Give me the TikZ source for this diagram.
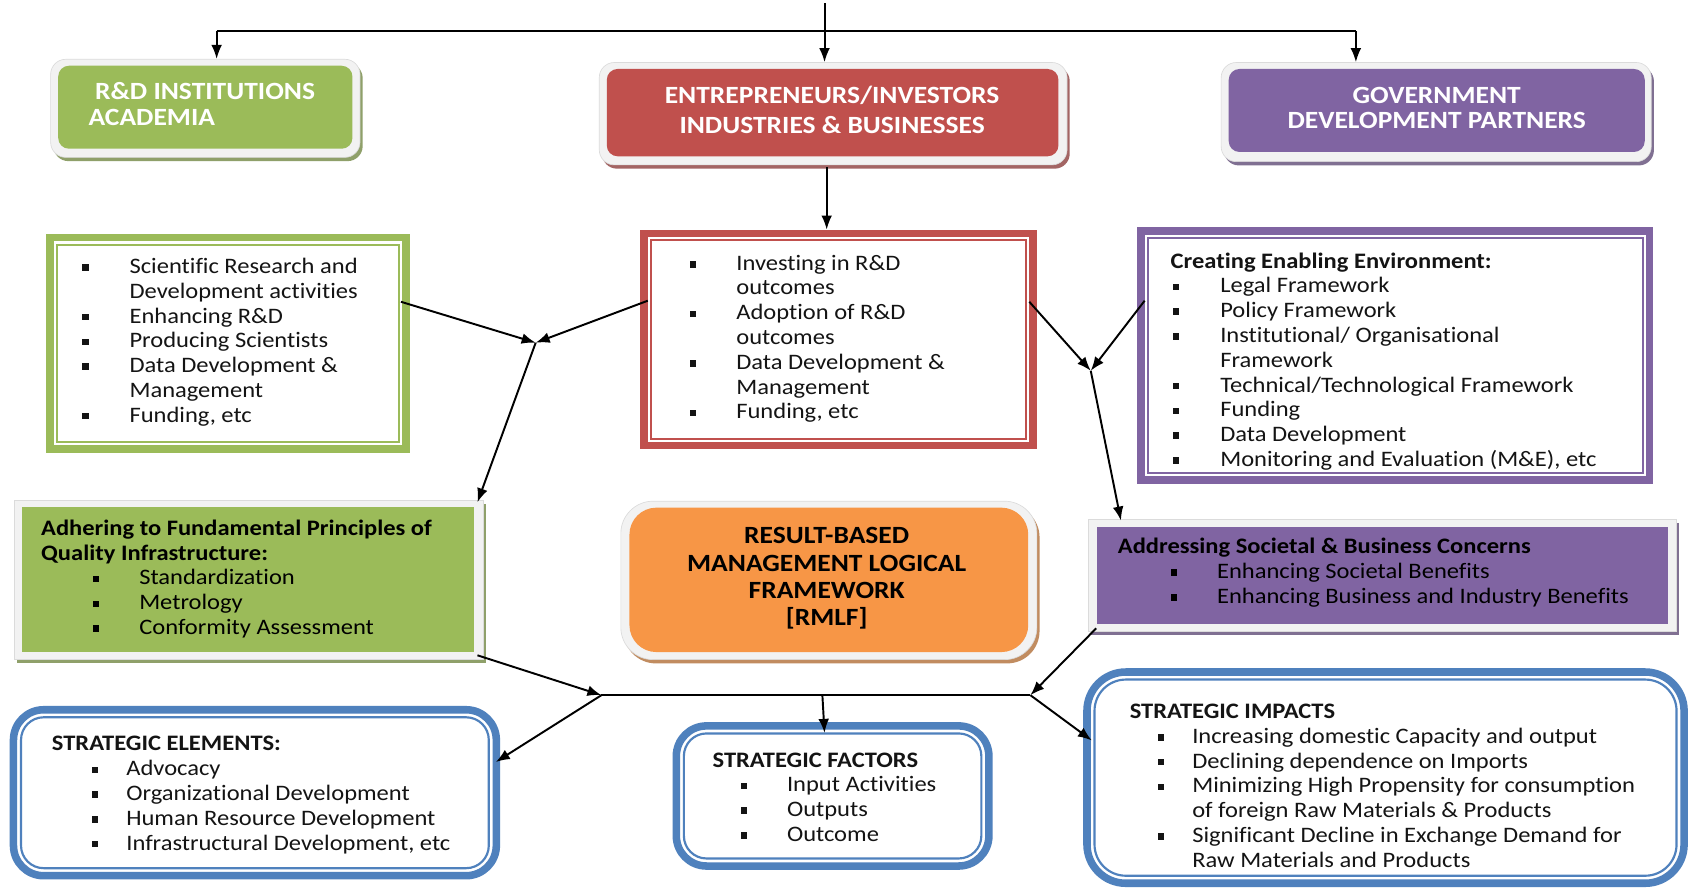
\documentclass[tikz,border=0pt]{standalone}
\usepackage{fontspec}
\setmainfont{Carlito}[FakeStretch=1.11,Ligatures=NoCommon]
\usetikzlibrary{arrows.meta,shadows,calc}
\definecolor{cgreen}{HTML}{9BBB59}
\definecolor{cred}{HTML}{C0504D}
\definecolor{cpurple}{HTML}{8064A2}
\definecolor{corange}{HTML}{F79646}
\definecolor{cblue}{HTML}{4F81BD}
\definecolor{cframe}{HTML}{F2F2F2}
\definecolor{ctext}{HTML}{141414}
\newcommand\bodyf{\fontsize{20.5}{23}\selectfont}
\newcommand\bul[1]{\makebox[#1][l]{\rule[2.5pt]{6pt}{6pt}}}
\newcommand\bi[3]{\strut\hspace*{#1}\bul{#2}#3}
\newcommand\ci[2]{\strut\hspace*{#1}#2}
\tikzset{
  frm/.style={fill=cframe, draw=black!14, line width=0.6pt, inner sep=0pt},
  shd/.style={general shadow={fill=#1, draw=none, shadow xshift=2.5pt, shadow yshift=-3.5pt}},
  infill/.style={fill=#1, draw=none, inner sep=0pt},
  thickb/.style={draw=#1, line width=7pt, inner sep=0pt},
  thinb/.style={draw=#1, line width=2pt, inner sep=0pt},
  txt/.style={anchor=north west, inner sep=0pt, align=left, font=\bodyf, text=ctext, yshift=-1.5pt},
  head/.style={inner sep=0pt, font=\fontsize{23}{#1}\selectfont\bfseries},
  arr/.style={-{Latex[length=13pt,width=10pt]}, line width=1.8pt, black},
  ln/.style={line width=1.6pt, black}
}
\begin{document}
\begin{tikzpicture}[x=1pt,y=-1pt]
\useasboundingbox (0,0) rectangle (1568,826);
\fill[white] (0,0) rectangle (1568,826);

% ---------- top row ----------
\node[frm, shd=cgreen!55!gray, rounded corners=14pt, minimum width=287pt, minimum height=91pt] (rd) at (190.5,100.5) {};
\node[infill=cgreen, rounded corners=10pt, minimum width=273pt, minimum height=77pt] (rdin) at (190.5,99.5) {};
\node[head=24, text=white, anchor=north west, align=left] (rdtxt) at (82,75.6) {\strut\hspace*{6pt}R\&D INSTITUTIONS\\\strut ACADEMIA};

\node[frm, shd=cred!55!gray, rounded corners=14pt, minimum width=434pt, minimum height=95pt] (ent) at (773,105.5) {};
\node[infill=cred, rounded corners=10pt, minimum width=419pt, minimum height=81pt] (entin) at (772.5,104.5) {};
\node[head=28, text=white, anchor=north, align=center] (enttxt) at (772,76.3) {\strut ENTREPRENEURS/INVESTORS\\\strut INDUSTRIES \& BUSINESSES};

\node[frm, shd=cpurple!55!gray, rounded corners=14pt, minimum width=399pt, minimum height=92pt] (gov) at (1332.5,104) {};
\node[infill=cpurple, rounded corners=10pt, minimum width=386pt, minimum height=77pt] (govin) at (1333,102.5) {};
\node[head=23, text=white, anchor=north, align=center] (govtxt) at (1333,79.8) {\strut GOVERNMENT\\\strut DEVELOPMENT PARTNERS};

% ---------- second row: double-border boxes ----------
\node[thickb=cgreen, minimum width=330pt, minimum height=196pt] (boxA) at (211.5,318.5) {};
\node[thinb=cgreen, minimum width=317pt, minimum height=183pt] (boxAin) at (211.5,318.5) {};
\node[txt] (txtA) at (76,235.9) {%
\bi{0pt}{44pt}{Scientific Research and}\\
\ci{44pt}{Development activities}\\
\bi{0pt}{44pt}{Enhancing R\&D}\\
\bi{0pt}{44pt}{Producing Scientists}\\
\bi{0pt}{44pt}{Data Development \&}\\
\ci{44pt}{Management}\\
\bi{0pt}{44pt}{Funding, etc}};

\node[thickb=cred, minimum width=361pt, minimum height=197pt] (boxB) at (778,315) {};
\node[thinb=cred, minimum width=348pt, minimum height=184pt] (boxBin) at (778,315) {};
\node[txt] (txtB) at (640,232.9) {%
\bi{0pt}{43pt}{Investing in R\&D}\\
\ci{43pt}{outcomes}\\
\bi{0pt}{43pt}{Adoption of R\&D}\\
\ci{43pt}{outcomes}\\
\bi{0pt}{43pt}{Data Development \&}\\
\ci{43pt}{Management}\\
\bi{0pt}{43pt}{Funding, etc}};

\node[thickb=cpurple, minimum width=472pt, minimum height=231pt] (boxC) at (1294.5,330) {};
\node[thinb=cpurple, minimum width=459pt, minimum height=218pt] (boxCin) at (1294.5,330) {};
\node[txt] (txtC) at (1086,230.9) {%
\strut\textbf{Creating Enabling Environment:}\\
\bi{2pt}{44pt}{Legal Framework}\\
\bi{2pt}{44pt}{Policy Framework}\\
\bi{2pt}{44pt}{Institutional/ Organisational}\\
\ci{46pt}{Framework}\\
\bi{2pt}{44pt}{Technical/Technological Framework}\\
\bi{2pt}{44pt}{Funding}\\
\bi{2pt}{44pt}{Data Development}\\
\bi{2pt}{44pt}{Monitoring and Evaluation (M\&E), etc}};

% ---------- third row ----------
\node[frm, shd=cgreen!55!gray, minimum width=435pt, minimum height=148pt] (boxD) at (230.5,538) {};
\node[infill=cgreen, minimum width=420pt, minimum height=135pt] (boxDin) at (230,537.5) {};
\node[txt, text=black] (txtD) at (38,478.9) {%
\strut\textbf{Adhering to Fundamental Principles of}\\
\strut\textbf{Quality Infrastructure:}\\
\bi{48pt}{43pt}{Standardization}\\
\bi{48pt}{43pt}{Metrology}\\
\bi{48pt}{43pt}{Conformity Assessment}};

\node[frm, shd=corange!55!gray, rounded corners=30pt, minimum width=386pt, minimum height=147pt] (rmlf) at (769,538.5) {};
\node[infill=corange, rounded corners=25pt, minimum width=370pt, minimum height=134pt] (rmlfin) at (769,538) {};
\node[head=25.3, text=black, anchor=north, align=center] (rmlftxt) at (767,486.7) {\strut RESULT-BASED\\\strut MANAGEMENT LOGICAL\\\strut FRAMEWORK\\\strut [RMLF]};

\node[frm, shd=cpurple!55!gray, minimum width=545pt, minimum height=104pt] (boxE) at (1282.5,534) {};
\node[infill=cpurple, minimum width=530pt, minimum height=90pt] (boxEin) at (1283,534) {};
\node[txt, text=black] (txtE) at (1037,495.9) {%
\strut\textbf{Addressing Societal \& Business Concerns}\\
\bi{49pt}{43pt}{Enhancing Societal Benefits}\\
\bi{49pt}{43pt}{Enhancing Business and Industry Benefits}};

% ---------- bottom row ----------
\node[thickb=cblue, rounded corners=28pt, minimum width=448pt, minimum height=154pt] (boxF) at (236.5,735.5) {};
\node[thinb=cblue, rounded corners=21pt, minimum width=434pt, minimum height=140pt] (boxFin) at (236.5,735.5) {};
\node[txt] (txtF) at (48,678.9) {%
\strut\textbf{STRATEGIC ELEMENTS:}\\
\bi{37pt}{32pt}{Advocacy}\\
\bi{37pt}{32pt}{Organizational Development}\\
\bi{37pt}{32pt}{Human Resource Development}\\
\bi{37pt}{32pt}{Infrastructural Development, etc}};

\node[thickb=cblue, rounded corners=28pt, minimum width=290pt, minimum height=130pt] (boxG) at (772.5,738.5) {};
\node[thinb=cblue, rounded corners=21pt, minimum width=276pt, minimum height=116pt] (boxGin) at (772.5,738.5) {};
\node[txt] (txtG) at (661,693.9) {%
\strut\textbf{STRATEGIC FACTORS}\\
\bi{26pt}{43pt}{Input Activities}\\
\bi{26pt}{43pt}{Outputs}\\
\bi{26pt}{43pt}{Outcome}};

\node[thickb=cblue, rounded corners=36pt, minimum width=554pt, minimum height=196pt] (boxH) at (1285.5,721.5) {};
\node[thinb=cblue, rounded corners=29pt, minimum width=540pt, minimum height=182pt] (boxHin) at (1285.5,721.5) {};
\node[txt] (txtH) at (1048,648.9) {%
\strut\textbf{STRATEGIC IMPACTS}\\
\bi{26pt}{32pt}{Increasing domestic Capacity and output}\\
\bi{26pt}{32pt}{Declining dependence on Imports}\\
\bi{26pt}{32pt}{Minimizing High Propensity for consumption}\\
\ci{58pt}{of foreign Raw Materials \& Products}\\
\bi{26pt}{32pt}{Significant Decline in Exchange Demand for}\\
\ci{58pt}{Raw Materials and Products}};

% ---------- connectors ----------
\coordinate (top) at (765,3);
\coordinate (hl) at (201,29);
\coordinate (hr) at (1258,29);
\draw[ln] (hl) -- (hr);
\draw[arr] (top) -- (top |- ent.north);
\draw[arr] (hl) -- (hl |- rd.north);
\draw[arr] (hr) -- (hr |- gov.north);

\coordinate (c1) at (767,155);
\draw[arr] (c1) -- (c1 |- boxB.north);

\coordinate (j1) at (497,318);
\coordinate (a1) at (372,280);
\coordinate (b1) at (601,279);
\coordinate (d1) at (443,466);
\draw[arr] (a1) -- (j1);
\draw[arr] (b1) -- (j1);
\draw[arr] (j1) -- (d1);

\coordinate (j2) at (1012,344);
\coordinate (b2) at (955,280);
\coordinate (c2) at (1062,279);
\coordinate (e1) at (1040,483);
\draw[arr] (b2) -- (j2);
\draw[arr] (c2) -- (j2);
\draw[arr] (j2) -- (e1);

\coordinate (j3) at (558,645);
\coordinate (j4) at (956,645);
\coordinate (d2) at (443,608);
\coordinate (f1) at (460,707);
\coordinate (e2) at (1017,583);
\coordinate (h1) at (1013,687);
\coordinate (g0) at (763,645);
\coordinate (g1) at (765,680);
\draw[ln] (j3) -- (j4);
\draw[arr] (d2) -- (j3);
\draw[arr] (j3) -- (f1);
\draw[arr] (e2) -- (j4);
\draw[arr] (j4) -- (h1);
\draw[arr] (g0) -- (g1);
\end{tikzpicture}
\end{document}
